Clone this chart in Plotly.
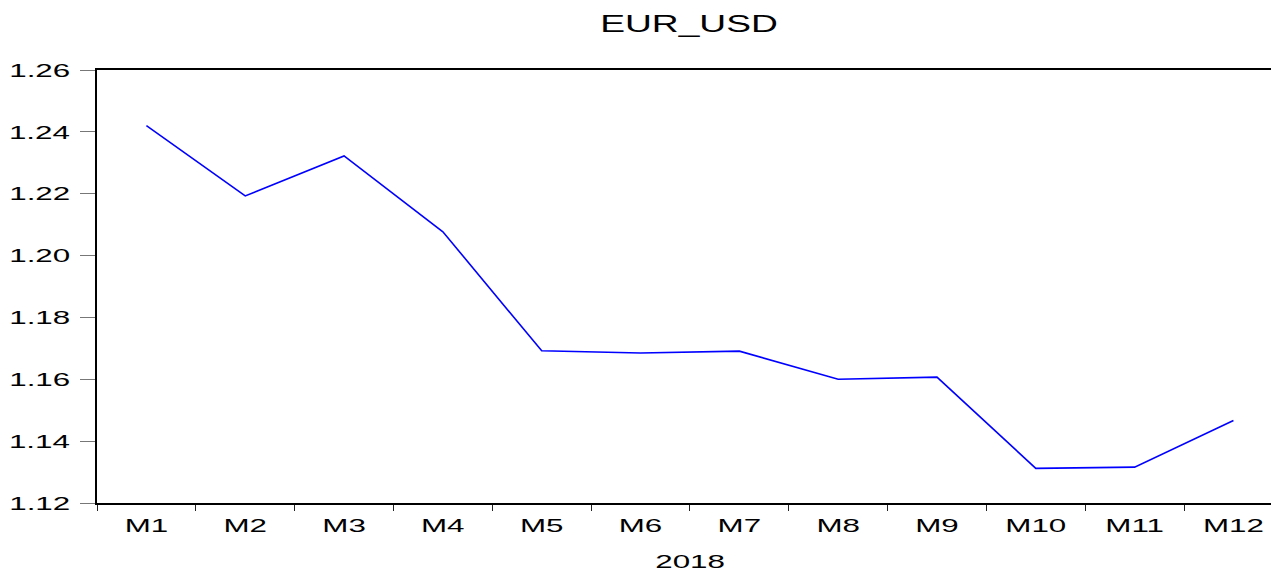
import plotly.graph_objects as go

months = ["M1", "M2", "M3", "M4", "M5", "M6", "M7", "M8", "M9", "M10", "M11", "M12"]
eur_usd = [1.2420, 1.2193, 1.2322, 1.2077, 1.1692, 1.1685, 1.1691, 1.1600, 1.1607, 1.1312, 1.1316, 1.1467]
y_ticks = [1.12, 1.14, 1.16, 1.18, 1.20, 1.22, 1.24, 1.26]
y_ticktext = ["1.12", "1.14", "1.16", "1.18", "1.20", "1.22", "1.24", "1.26"]
title_text = "EUR_USD"
year_label = "2018"

W, H = 1271, 571
L, T = 97, 70
B = H - 503

fig = go.Figure()
fig.add_trace(go.Scatter(x=months, y=eur_usd, mode="lines",
                         line=dict(color="#0000FF", width=1.6),
                         showlegend=False, hoverinfo="skip"))

font = dict(family="Liberation Sans, Arial, sans-serif", size=19, color="black")

fig.update_layout(
    width=W, height=H,
    margin=dict(l=L, r=0, t=T, b=B, pad=0),
    paper_bgcolor="white", plot_bgcolor="white",
    font=font,
    title=dict(text=title_text, x=689 / W, xref="container", xanchor="center",
               y=1 - 24 / H, yref="container", yanchor="middle",
               font=dict(family="Liberation Sans, Arial, sans-serif", size=24, color="black")),
    xaxis=dict(type="category", range=[-0.5, 11.38], tickson="boundaries",
               ticks="outside", ticklen=6, tickwidth=1, tickcolor="#222",
               ticklabelstandoff=4, automargin=False,
               showline=True, linecolor="black", linewidth=2, mirror=True,
               showgrid=False, zeroline=False, tickfont=font),
    yaxis=dict(range=[1.12, 1.26], tickvals=y_ticks, ticktext=y_ticktext,
               ticks="outside", ticklen=15, tickwidth=1, tickcolor="#777",
               ticklabelstandoff=6, automargin=False,
               showline=True, linecolor="black", linewidth=2, mirror=False,
               showgrid=False, zeroline=False, tickfont=font),
    annotations=[dict(text=year_label, xref="paper", yref="paper",
                      x=(690 - L) / (W - L), y=0, xanchor="center", yanchor="middle",
                      yshift=-(561 - 503), showarrow=False, font=font)],
)

post = """
document.body.style.margin = '0';
var gd = document.getElementById('{plot_id}');
function stretch(el, s) {
  var bb = el.getBBox();
  var a = el.getAttribute('text-anchor') || 'start';
  var cx = a === 'end' ? bb.x + bb.width : (a === 'middle' ? bb.x + bb.width / 2 : bb.x);
  var t = el.getAttribute('transform') || '';
  el.setAttribute('transform', t + ' translate(' + cx + ',0) scale(' + s + ',1) translate(' + (-cx) + ',0)');
}
gd.querySelectorAll('g.xtick text, g.ytick text, text.annotation-text').forEach(function (el) { stretch(el, 1.65); });
gd.querySelectorAll('text.gtitle').forEach(function (el) { stretch(el, 1.55); });
"""

fig.write_html("out.html", post_script=post, config={"displayModeBar": False, "staticPlot": True})
